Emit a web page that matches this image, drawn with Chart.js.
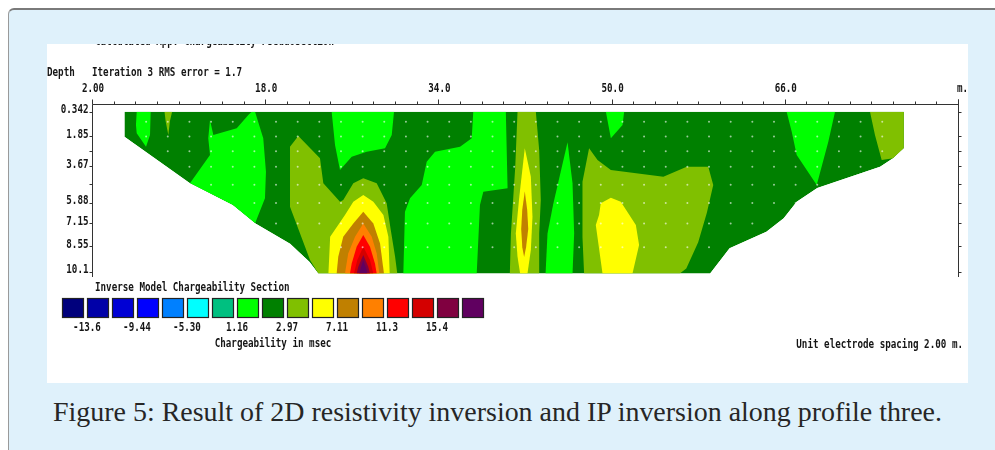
<!DOCTYPE html>
<html>
<head>
<meta charset="utf-8">
<script src="https://cdn.jsdelivr.net/npm/chart.js@4.4.1/dist/chart.umd.min.js"></script>
<style>
  body { margin: 0; background: #fff; width: 995px; height: 450px; overflow: hidden; position: relative; }
  #frame { position: absolute; left: 8px; top: 8px; width: 1000px; height: 460px; background: #dff1fb;
           border-left: 1px solid #9a9a9a; border-top: 2px solid #7a7a7a; border-radius: 6px 0 0 0; }
  #panel { position: absolute; left: 47px; top: 44px; width: 921px; height: 339px; background: #fff; }
  #cap { position: absolute; left: 0; width: 995px; top: 396px; text-align: center; color: #262626;
         font-family: "Liberation Serif", serif; white-space: nowrap; }
</style>
</head>
<body>
<div id="frame"></div>
<div id="panel"><canvas id="section" width="921" height="339" style="width:921px;height:339px"></canvas></div>
<div id="cap">Figure 5: Result of 2D resistivity inversion and IP inversion along profile three.</div>
<script>
// ==== Axes ====
const xTicks = [2, 18, 34, 50, 66];
const xTickLabels = ["2.00", "18.0", "34.0", "50.0", "66.0"];
const depthTicks = [0.342, 1.85, 2.72, 3.67, 4.73, 5.88, 7.15, 8.55, 10.1];
const depthLabels = ["0.342", "1.85", "", "3.67", "", "5.88", "7.15", "8.55", "10.1"];

// ==== Colour scale ====
const scaleColors = ["#00007c", "#0000a8", "#0000d4", "#0000ff", "#0080ff", "#00ffff", "#00c080", "#00ff00",
  "#008000", "#80c000", "#ffff00", "#c08000", "#ff8000", "#ff0000", "#d40000", "#800040", "#600060"];
const scaleLabels = ["-13.6", "-9.44", "-5.30", "1.16", "2.97", "7.11", "11.3", "15.4"];

// ==== Model section: [distance m, depth m] ====
const sectionOutline = [[5,0.342],[77,0.342],[77,2.57],[76,3.18],[74.8,3.7],[69,5.0],[67.1,5.83],[65.9,6.84],
  [64.3,7.66],[60.9,8.67],[59.1,10.2],[22.9,10.2],[22.1,9.5],[20.3,8.4],[17.1,7.15],[15.0,6.03],[11.05,4.71],[5,1.87]];

const zoneA = [[6.13,0.342],[7.42,0.342],[7.36,1.76],[6.99,2.48],[6.13,1.66],[6.06,1.15]];
const zoneB = [[8.7,0.342],[9.4,0.342],[9.2,0.9],[9.05,1.76],[8.8,0.9]];
const zoneC = [[12.9,0.85],[13.21,1.76],[15.37,1.35],[16.44,0.54],[16.75,0.342],[17.06,0.342],[17.82,1.96],
  [18.07,4.0],[17.98,5.62],[17.06,7.15],[15.0,6.03],[11.05,4.71],[12.9,2.98],[12.74,1.96]];
const zoneD = [[21.06,1.82],[20.29,2.48],[20.29,6.13],[22.14,9.38],[22.91,10.2],[30.2,10.2],[30.0,9.18],
  [29.6,7.55],[29.22,5.93],[28.3,4.71],[27.06,4.4],[26.14,4.71],[25.21,5.73],[24.91,5.83],[23.37,4.71],[23.06,3.18]];
const peakYellow = [[27.06,5.42],[27.99,5.83],[28.92,6.64],[29.38,7.96],[29.5,10.2],[23.84,10.2],[24.0,7.96],
  [25.37,6.64],[26.14,5.83]];
const peakBrown = [[27.06,6.44],[27.99,7.15],[28.61,8.37],[28.97,10.2],[24.6,10.2],[24.75,9.18],[25.21,7.96],[26.14,7.15]];
const peakOrange = [[27.06,7.15],[27.84,7.96],[28.3,8.98],[28.54,10.2],[25.37,10.2],[25.67,8.98],[26.3,7.96]];
const peakRed = [[27.06,7.86],[27.68,8.57],[28.14,9.59],[28.3,10.2],[25.83,10.2],[25.99,9.59],[26.45,8.57]];
const peakDarkRed = [[27.06,8.57],[27.68,9.38],[27.99,10.2],[26.2,10.2],[26.51,9.38]];
const peakMaroon = [[27.06,9.08],[27.52,9.79],[27.68,10.2],[26.45,10.2],[26.6,9.79]];
const peakPurple = [[27.06,9.38],[27.38,9.99],[27.43,10.2],[26.69,10.2],[26.82,9.89]];
const zoneE = [[24.14,0.342],[24.45,2.37],[24.91,3.9],[25.99,3.09],[27.38,2.78],[29.07,2.57],[29.69,1.76],[29.9,0.342]];
const zoneF = [[37.22,0.342],[37.08,1.96],[36.0,2.48],[33.69,2.78],[32.92,3.39],[32.46,4.81],[31.38,5.62],
  [30.91,6.44],[30.76,10.2],[37.54,10.2],[37.84,6.03],[38.15,5.22],[40.39,5.01],[40.23,0.342]];
const zoneG = [[41.31,0.342],[43.0,0.342],[43.31,2.68],[43.46,5.73],[43.31,7.76],[43.31,10.2],[40.6,10.2],
  [40.7,7.76],[41.1,3.70]];
const streakYellow = [[41.98,2.57],[42.54,4.30],[42.69,6.74],[42.54,8.77],[42.23,10.2],[41.55,10.2],[41.31,9.18],
  [41.15,7.76],[41.46,5.62]];
const streakBrown = [[41.98,5.2],[42.2,6.3],[42.3,7.5],[42.1,8.6],[41.92,9.2],[41.75,8.6],[41.65,7.5],[41.75,6.3]];
const zoneH = [[45.93,2.2],[46.39,4.71],[46.54,7.76],[46.39,10.2],[43.9,10.2],[44.08,7.76],[44.6,6.0],[45.3,4.0]];
const zoneI = [[47.92,2.57],[47.31,4.61],[47.31,8.0],[47.46,10.2],[56.3,10.2],[56.9,9.9],[58.0,8.3],[58.8,6.5],
  [59.39,4.81],[58.93,3.70],[56.94,3.70],[54.78,4.30],[49.93,3.90],[48.7,3.29]];
const zoneJ = [[49.93,5.59],[50.85,5.83],[52.24,7.25],[52.54,8.47],[51.93,10.2],[49.16,10.2],[48.54,7.25],
  [48.84,6.64],[49.0,5.93]];
const zoneK = [[49.47,0.342],[51.16,0.342],[51.01,1.15],[49.93,1.96]];
const zoneL = [[66.17,0.342],[70.64,0.342],[70.02,2.17],[68.95,4.81],[67.1,2.98],[66.64,1.56]];
const zoneM = [[73.87,0.342],[77,0.342],[77,2.57],[76.02,3.18],[74.95,3.29],[74.33,1.76]];

// model nodes (white dots): columns and, per row, depth and first/last column
const nodeCols = [7,9,11,13,15,17,19,21,23,25,27,29,31,33,35,37,39,41,43,45,47,49,51,53,55,57,59,61,63,65,67,69,71,73,75];
const nodeRows = [[0.95,7,75],[1.85,7,75],[2.75,9,75],[3.7,11,73],[4.8,13,69],[5.9,17,67],[7.15,19,63],[8.6,23,59]];

// bottom-to-top painting order, colour index into scaleColors
const zones = [
  [sectionOutline, 8], [zoneA, 7], [zoneB, 9], [zoneC, 7], [zoneD, 9],
  [peakYellow, 10], [peakBrown, 11], [peakOrange, 12], [peakRed, 13], [peakDarkRed, 14], [peakMaroon, 15], [peakPurple, 16],
  [zoneE, 7], [zoneF, 7], [zoneG, 9], [streakYellow, 10], [streakBrown, 11],
  [zoneH, 7], [zoneI, 9], [zoneJ, 10], [zoneK, 7], [zoneL, 7], [zoneM, 9]
];

// ==== Datasets ====
const toXY = pts => pts.concat([pts[0]]).map(p => ({ x: p[0], y: p[1] }));
const datasets = zones.map((z, i) => ({
  data: toXY(z[0]),
  fill: "shape",
  backgroundColor: scaleColors[z[1]],
  borderWidth: 0,
  pointRadius: 0,
  tension: 0,
  order: zones.length + 1 - i
}));

const nodes = [];
nodeRows.forEach(r => nodeCols.forEach(c => { if (c >= r[1] && c <= r[2]) nodes.push({ x: c, y: r[0] }); }));
datasets.push({
  data: nodes, showLine: false, fill: false, pointRadius: 1, pointBorderWidth: 0,
  pointBackgroundColor: "rgba(255,255,255,0.6)", order: 0
});

// ==== Text helper (narrow bitmap-like font) ====
const SX = 0.71;
function monoText(ctx, s, x, y, align) {
  ctx.save();
  ctx.font = 'bold 13px "DejaVu Sans Mono"';
  ctx.textBaseline = "middle";
  ctx.textAlign = "left";
  ctx.fillStyle = "#151515";
  const w = ctx.measureText(s).width * SX;
  const x0 = align === "center" ? x - w / 2 : align === "right" ? x - w : x;
  ctx.translate(x0, y);
  ctx.scale(SX, 1);
  ctx.fillText(s, 0, 0);
  ctx.restore();
}

// ==== Plugins ====
const sectionClip = {
  id: "sectionClip",
  beforeDatasetsDraw(chart) {
    const { ctx, scales: { x, y } } = chart;
    ctx.save();
    ctx.beginPath();
    sectionOutline.forEach((p, i) => {
      const px = x.getPixelForValue(p[0]), py = y.getPixelForValue(p[1]);
      i ? ctx.lineTo(px, py) : ctx.moveTo(px, py);
    });
    ctx.closePath();
    ctx.clip();
  },
  afterDatasetsDraw(chart) {
    chart.ctx.restore();
  }
};

const figureFrame = {
  id: "figureFrame",
  afterDraw(chart) {
    const { ctx, chartArea: a, scales: { x, y } } = chart;
    ctx.save();

    // cut-off heading at the very top of the scan
    ctx.save();
    ctx.beginPath(); ctx.rect(0, 0, 921, 339); ctx.clip();
    monoText(ctx, "Calculated App. Chargeability Pseudosection", 48, -2.5);
    ctx.restore();

    monoText(ctx, "Depth", 0, 29);
    monoText(ctx, "Iteration 3 RMS error = 1.7", 45, 29);

    // frame lines
    ctx.strokeStyle = "#333";
    ctx.lineWidth = 1;
    const top = Math.round(a.top) + 0.5, left = Math.round(a.left) + 0.5, right = Math.round(a.right) + 0.5;
    ctx.beginPath();
    ctx.moveTo(left, top); ctx.lineTo(right, top);
    ctx.moveTo(left, top); ctx.lineTo(left, a.bottom);
    ctx.moveTo(right, top - 5); ctx.lineTo(right, a.bottom);
    ctx.stroke();

    // distance ticks every electrode spacing
    ctx.beginPath();
    for (let m = 2; m <= 82; m += 2) {
      const px = Math.round(x.getPixelForValue(m)) + 0.5;
      const major = (m - 2) % 16 === 0;
      ctx.moveTo(px, top); ctx.lineTo(px, top - (major ? 5 : 3));
    }
    depthTicks.forEach(d => {
      const py = Math.round(y.getPixelForValue(d)) + 0.5;
      ctx.moveTo(left - 3, py); ctx.lineTo(left, py);
      ctx.moveTo(right, py); ctx.lineTo(right + 3, py);
    });
    ctx.stroke();

    xTicks.forEach((m, i) => monoText(ctx, xTickLabels[i], x.getPixelForValue(m) + 1, 45, "center"));
    monoText(ctx, "m.", x.getPixelForValue(82) - 1, 45);
    depthTicks.forEach((d, i) => {
      if (depthLabels[i]) monoText(ctx, depthLabels[i], left - 4, y.getPixelForValue(d) - 2, "right");
    });

    // colour scale
    monoText(ctx, "Inverse Model Chargeability Section", 48, 244);
    scaleColors.forEach((c, i) => {
      const bx = 15 + 25 * i;
      ctx.fillStyle = c;
      ctx.fillRect(bx, 254, 22, 20);
      ctx.strokeStyle = "#222";
      ctx.lineWidth = 1.2;
      ctx.strokeRect(bx + 0.5, 254.5, 21, 19);
    });
    scaleLabels.forEach((s, i) => monoText(ctx, s, 40 + 50 * i, 284, "center"));
    monoText(ctx, "Chargeability in msec", 226, 300, "center");
    monoText(ctx, "Unit electrode spacing 2.00 m.", 916, 301, "right");

    ctx.restore();
  }
};

// ==== Chart ====
new Chart(document.getElementById("section"), {
  type: "line",
  data: { datasets },
  options: {
    responsive: false,
    animation: false,
    devicePixelRatio: 1,
    events: [],
    layout: { padding: { left: 45, right: 10, top: 59.5, bottom: 106 } },
    scales: {
      x: { type: "linear", min: 2, max: 82, display: false },
      y: { type: "linear", min: -0.16, max: 10.42, reverse: true, display: false }
    },
    plugins: { legend: { display: false }, tooltip: { enabled: false } }
  },
  plugins: [sectionClip, figureFrame]
});

// ==== Caption sized to the scan's caption width ====
const cap = document.getElementById("cap");
const mctx = document.createElement("canvas").getContext("2d");
mctx.font = '100px "Liberation Serif"';
cap.style.fontSize = (100 * 890 / mctx.measureText(cap.textContent).width).toFixed(2) + "px";
</script>
</body>
</html>
